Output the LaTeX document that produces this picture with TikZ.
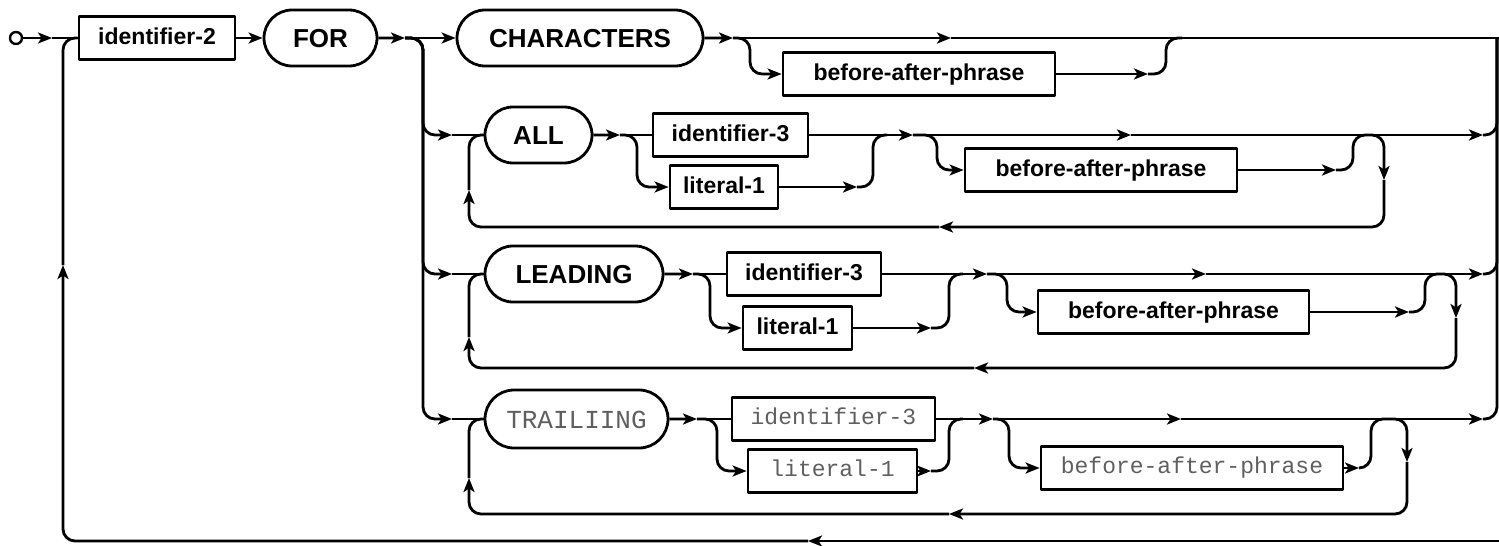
\documentclass[tikz,border=0pt]{standalone}
\usepackage{fontspec}
\setmainfont{Liberation Sans}
\setmonofont{Liberation Mono}
\usetikzlibrary{shapes.misc,arrows.meta}
\definecolor{monogray}{RGB}{95,95,95}
\begin{document}
\begin{tikzpicture}[x=1pt,y=-1pt,
  line width=2.8pt, line join=round,
  rc/.style={rounded corners=12pt},
  arr/.style={-{Stealth[length=14pt,width=11pt,inset=3.5pt]}},
  rbox/.style={draw, rectangle, inner sep=0pt, minimum height=43pt,
    text height=17pt, text depth=5pt, font=\fontsize{23}{27}\selectfont\bfseries},
  kw/.style={draw, rounded rectangle, inner sep=0pt, minimum height=56pt,
    text height=19pt, text depth=0pt, font=\fontsize{26}{30}\selectfont\bfseries},
  mbox/.style={draw, rectangle, inner sep=0pt, minimum height=43pt,
    text height=16pt, text depth=5pt, font=\fontsize{23}{27}\selectfont\ttfamily, text=monogray},
  mkw/.style={draw, rounded rectangle, inner sep=0pt, minimum height=58pt,
    text height=18pt, text depth=0pt, font=\fontsize{26}{30}\selectfont\ttfamily, text=monogray},
]
\useasboundingbox (0,0) rectangle (1499,546);

% ---- nodes ----
\node[circle, draw, line width=2.4pt, minimum size=12pt, inner sep=0pt] (start) at (16,38) {};
\node[rbox, minimum width=156pt] (id2) at (157,38) {identifier-2};
\node[kw, minimum width=113pt] (for) at (320.5,38) {FOR};
\node[kw, minimum width=246pt] (chars) at (580,38) {CHARACTERS};
\node[rbox, minimum width=272pt] (bapA) at (919,74) {before-after-phrase};

\node[kw, minimum width=107pt] (all) at (538.5,135) {ALL};
\node[rbox, minimum width=155pt] (idA) at (730.5,135) {identifier-3};
\node[rbox, minimum width=108pt] (litA) at (724,187) {literal-1};
\node[rbox, minimum width=272pt] (bapB) at (1101,170) {before-after-phrase};

\node[kw, minimum width=178pt] (lead) at (574,274) {LEADING};
\node[rbox, minimum width=154pt] (idB) at (804,274) {identifier-3};
\node[rbox, minimum width=109pt] (litB) at (797.5,328) {literal-1};
\node[rbox, minimum width=271pt] (bapC) at (1173.5,312) {before-after-phrase};

\node[mkw, minimum width=183pt] (trail) at (576.5,419) {TRAILIING};
\node[mbox, minimum width=203pt] (idC) at (833.5,419) {identifier-3};
\node[mbox, minimum width=169pt] (litC) at (832.5,471) {literal-1};
\node[mbox, minimum width=302pt] (bapD) at (1192,468) {before-after-phrase};

% ---- junction points ----
\coordinate (a0) at (52,38);
\coordinate (s1) at (405,38);
\coordinate (v1) at (423,38);
\coordinate (c1) at (733,38);
\coordinate (b1) at (750,38);
\coordinate (t1) at (951,38);
\coordinate (e1) at (1499,38);
\coordinate (rv) at (1497,38);
\coordinate (m1) at (1148,74);
\coordinate (u1) at (1166,38);
\coordinate (bR) at (1499,541);
\coordinate (bA) at (808,541);
\coordinate (lA) at (63,265);

\coordinate (in2) at (452,135);
\coordinate (p2) at (620,135);
\coordinate (b2) at (637,135);
\coordinate (m2) at (857,187);
\coordinate (u2) at (873,135);
\coordinate (q2) at (913,135);
\coordinate (t2) at (1131,135);
\coordinate (f2) at (1483,135);
\coordinate (b2b) at (937,135);
\coordinate (m2b) at (1336,170);
\coordinate (h2) at (1353,135);
\coordinate (h2r) at (1367,135);
\coordinate (d2) at (1384,135);
\coordinate (dA2) at (1384,180);
\coordinate (rA2) at (939,227);
\coordinate (uA2) at (469,190);

\coordinate (in3) at (452,274);
\coordinate (p3) at (693,274);
\coordinate (b3) at (710,274);
\coordinate (m3) at (931,328);
\coordinate (u3) at (949,274);
\coordinate (q3) at (987,274);
\coordinate (t3) at (1206,274);
\coordinate (f3) at (1483,274);
\coordinate (b3b) at (1007,274);
\coordinate (m3b) at (1409,312);
\coordinate (h3) at (1425,274);
\coordinate (h3r) at (1439,274);
\coordinate (d3) at (1456,274);
\coordinate (dA3) at (1456,318);
\coordinate (rA3) at (974,368);
\coordinate (uA3) at (469,337);

\coordinate (in4) at (452,419);
\coordinate (p4) at (697,419);
\coordinate (b4) at (717,419);
\coordinate (m4) at (931,471);
\coordinate (u4) at (949,419);
\coordinate (q4) at (993,419);
\coordinate (t4) at (1181,419);
\coordinate (f4) at (1483,419);
\coordinate (b4b) at (1009,419);
\coordinate (m4b) at (1359,468);
\coordinate (h4) at (1371,419);
\coordinate (h4r) at (1390,419);
\coordinate (d4) at (1407,419);
\coordinate (dA4) at (1407,462);
\coordinate (rA4) at (949,514);
\coordinate (uA4) at (469,478);

% ---- main line ----
\draw[arr] (start) -- (a0);
\draw (a0) -- (id2.west);
\draw[arr] (id2) -- (for);
\draw[arr] (for) -- (s1);
\draw[arr] (s1) -- (chars);
\draw[arr] (chars) -- (c1);
\draw[arr] (c1) -- (t1);
\draw (t1) -- (e1);
\draw[rc,arr] (c1) -- (b1) |- (bapA.west);
\draw[arr] (bapA) -- (m1);
\draw[rc] (m1) -| (u1) -- ++(16,0);

% outer repeat loop
\draw[arr] (bR) -- (bA);
\draw[rc,arr] (bA) -| (lA);
\draw[rc] (lA) |- (id2.west);

% ---- ALL ----
\draw[rc,arr] (s1) -- (v1) |- (in2);
\draw (in2) -- (all);
\draw[arr] (all) -- (p2);
\draw (p2) -- (idA);
\draw[rc,arr] (p2) -- (b2) |- (litA.west);
\draw[arr] (litA) -- (m2);
\draw[rc] (m2) -| (u2) -- ++(14,0);
\draw[arr] (idA) -- (q2);
\draw[arr] (q2) -- (t2);
\draw[arr] (t2) -- (f2);
\draw[rc] (f2) -| (rv);
\draw[rc,arr] (q2) -- (b2b) |- (bapB.west);
\draw[arr] (bapB) -- (m2b);
\draw[rc] (m2b) -| (h2) -- (h2r);
\draw[rc,arr] (h2r) -- (d2) -- (dA2);
\draw[rc,arr] (dA2) |- (rA2);
\draw[rc,arr] (rA2) -| (uA2);
\draw[rc] (uA2) |- (all.west);

% ---- LEADING ----
\draw[rc,arr] (s1) -- (v1) |- (in3);
\draw (in3) -- (lead);
\draw[arr] (lead) -- (p3);
\draw (p3) -- (idB);
\draw[rc,arr] (p3) -- (b3) |- (litB.west);
\draw[arr] (litB) -- (m3);
\draw[rc] (m3) -| (u3) -- ++(14,0);
\draw[arr] (idB) -- (q3);
\draw[arr] (q3) -- (t3);
\draw[arr] (t3) -- (f3);
\draw[rc] (f3) -| (rv);
\draw[rc,arr] (q3) -- (b3b) |- (bapC.west);
\draw[arr] (bapC) -- (m3b);
\draw[rc] (m3b) -| (h3) -- (h3r);
\draw[rc,arr] (h3r) -- (d3) -- (dA3);
\draw[rc,arr] (dA3) |- (rA3);
\draw[rc,arr] (rA3) -| (uA3);
\draw[rc] (uA3) |- (lead.west);

% ---- TRAILIING ----
\draw[rc,arr] (s1) -- (v1) |- (in4);
\draw (in4) -- (trail);
\draw[arr] (trail) -- (p4);
\draw (p4) -- (idC);
\draw[rc,arr] (p4) -- (b4) |- (litC.west);
\draw[arr] (litC) -- (m4);
\draw[rc] (m4) -| (u4) -- ++(14,0);
\draw[arr] (idC) -- (q4);
\draw[arr] (q4) -- (t4);
\draw[arr] (t4) -- (f4);
\draw[rc] (f4) -| (rv);
\draw[rc,arr] (q4) -- (b4b) |- (bapD.west);
\draw[arr] (bapD) -- (m4b);
\draw[rc] (m4b) -| (h4) -- (h4r);
\draw[rc,arr] (h4r) -- (d4) -- (dA4);
\draw[rc,arr] (dA4) |- (rA4);
\draw[rc,arr] (rA4) -| (uA4);
\draw[rc] (uA4) |- (trail.west);
\end{tikzpicture}
\end{document}
